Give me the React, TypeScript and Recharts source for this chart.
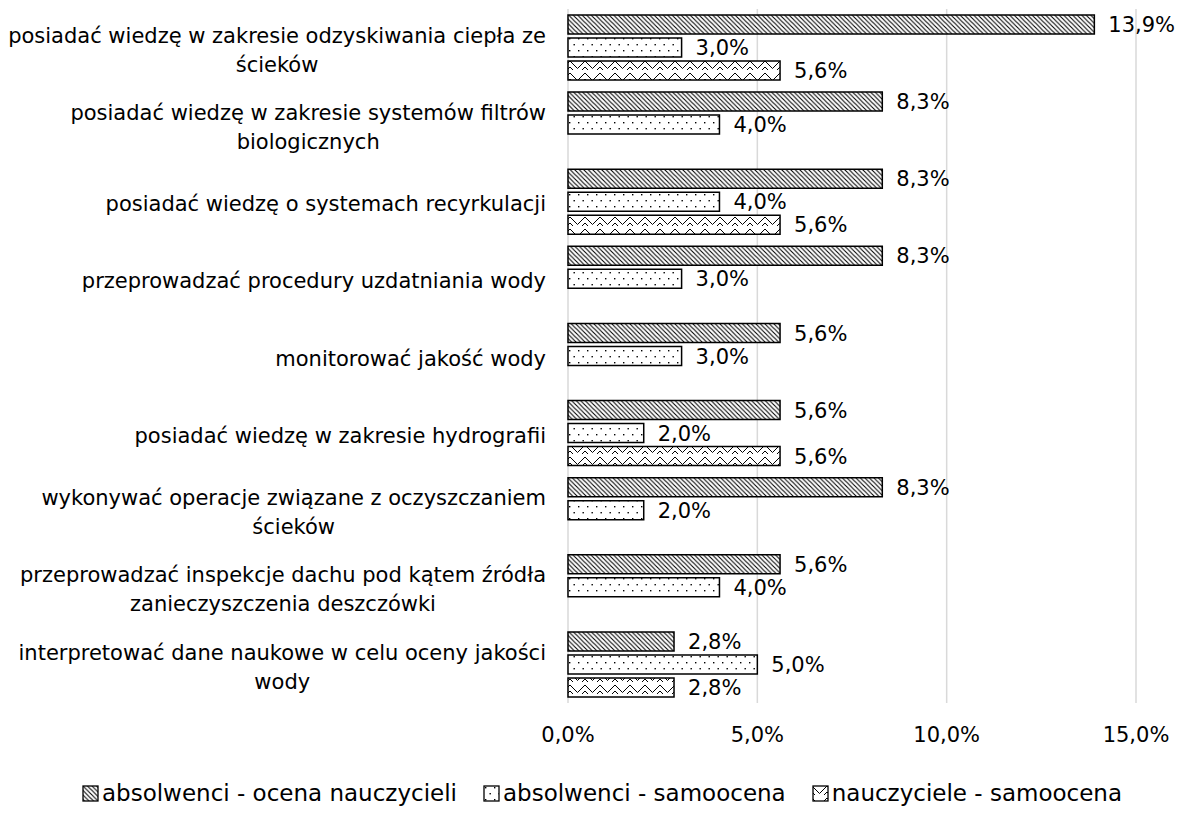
import { BarChart, Bar, XAxis, YAxis, CartesianGrid, Legend, LabelList } from 'recharts';

const categories = [
  'posiadać wiedzę w zakresie odzyskiwania ciepła ze\nścieków',
  'posiadać wiedzę w zakresie systemów filtrów\nbiologicznych',
  'posiadać wiedzę o systemach recyrkulacji',
  'przeprowadzać procedury uzdatniania wody',
  'monitorować jakość wody',
  'posiadać wiedzę w zakresie hydrografii',
  'wykonywać operacje związane z oczyszczaniem\nścieków',
  'przeprowadzać inspekcje dachu pod kątem źródła\nzanieczyszczenia deszczówki',
  'interpretować dane naukowe w celu oceny jakości\nwody',
];

const absolwenciOcenaNauczycieli = [13.9, 8.3, 8.3, 8.3, 5.6, 5.6, 8.3, 5.6, 2.8];
const absolwenciSamoocena = [3.0, 4.0, 4.0, 3.0, 3.0, 2.0, 2.0, 4.0, 5.0];
const nauczycieleSamoocena = [5.6, null, 5.6, null, null, 5.6, null, null, 2.8];

const xTicks = [0, 5, 10, 15];

const seriesNames = ['absolwenci - ocena nauczycieli', 'absolwenci - samoocena', 'nauczyciele - samoocena'];
const seriesKeys = ['ocena', 'samoAbs', 'samoNau'];
const patternIds = ['pDiag', 'pDots', 'pZig'];

const data = categories.map((name, i) => ({
  name,
  ocena: absolwenciOcenaNauczycieli[i],
  samoAbs: absolwenciSamoocena[i],
  samoNau: nauczycieleSamoocena[i],
}));

const FONT = '"DejaVu Sans", sans-serif';
const FS = 21;
const LINE_H = 29;

const fmt = (v: number) => v.toFixed(1).replace('.', ',') + '%';

let ctx: CanvasRenderingContext2D | null = null;
function textWidth(s: string) {
  if (!ctx) ctx = document.createElement('canvas').getContext('2d');
  if (!ctx) return s.length * FS * 0.55;
  ctx.font = `${FS}px ${FONT}`;
  return ctx.measureText(s).width;
}

// right-aligned block, lines centred inside it (like the Excel original)
function CategoryTick(props: any) {
  const { x, y, payload } = props;
  const lines: string[] = String(payload.value).split('\n');
  const w = Math.max(...lines.map(textWidth));
  const cx = x - w / 2;
  const y0 = y + 2 - ((lines.length - 1) * LINE_H) / 2;
  return (
    <text x={cx} y={y0} textAnchor="middle" fontFamily={FONT} fontSize={FS} fill="#000">
      {lines.map((l, i) => (
        <tspan key={i} x={cx} y={y0 + i * LINE_H} dy="0.36em">
          {l}
        </tspan>
      ))}
    </text>
  );
}

function ValueLabel(props: any) {
  const { x, y, width, height, value } = props;
  if (value == null) return null;
  return (
    <text x={x + width + 14} y={y + height / 2} dy="0.36em" fontFamily={FONT} fontSize={FS} fill="#000">
      {fmt(value)}
    </text>
  );
}

function Patterns() {
  return (
    <defs>
      <pattern id="pDiag" patternUnits="userSpaceOnUse" width="4.5" height="4.5">
        <rect width="4.5" height="4.5" fill="#fff" />
        <path d="M-1,-1 L5.5,5.5 M-1,3.5 L1,5.5 M3.5,-1 L5.5,1" stroke="#000" strokeWidth="1.1" />
      </pattern>
      <pattern id="pDots" patternUnits="userSpaceOnUse" width="9" height="12">
        <rect width="9" height="12" fill="#fff" />
        <rect x="2" y="2" width="1.4" height="1.4" fill="#000" />
        <rect x="6.5" y="8" width="1.4" height="1.4" fill="#000" />
      </pattern>
      <pattern id="pZig" patternUnits="userSpaceOnUse" width="15" height="12">
        <rect width="15" height="12" fill="#fff" />
        <path d="M0,1 L7.5,8.5 L15,1 M0,7 L3,10 M15,7 L12,10" stroke="#000" strokeWidth="1" fill="none" />
      </pattern>
    </defs>
  );
}

function LegendContent() {
  return (
    <div style={{ display: 'flex', justifyContent: 'center', alignItems: 'center', paddingTop: 20, paddingLeft: 68, fontFamily: FONT, fontSize: 23, color: '#000' }}>
      {seriesNames.map((n, i) => (
        <div key={n} style={{ display: 'flex', alignItems: 'center', marginRight: i < 2 ? 26 : 0 }}>
          <svg width="17" height="17" style={{ marginRight: 3 }}>
            <rect x="1" y="1" width="15" height="15" fill={`url(#${patternIds[i]})`} stroke="#000" strokeWidth="1.3" />
          </svg>
          <span>{n}</span>
        </div>
      ))}
    </div>
  );
}

export default function App() {
  return (
    <div style={{ position: 'absolute', left: 0, top: 0, width: 1182, height: 814, background: '#fff' }}>
      <svg width="0" height="0" style={{ position: 'absolute' }}>
        <Patterns />
      </svg>
      <BarChart
        width={1182}
        height={814}
        data={data}
        layout="vertical"
        margin={{ top: 9, right: 46, bottom: 0, left: 0 }}
        barSize={19}
        barGap={4}
      >
        <CartesianGrid horizontal={false} stroke="#d9d9d9" strokeWidth={1.5} />
        <XAxis
          type="number"
          domain={[0, 15]}
          ticks={xTicks}
          tickFormatter={fmt}
          axisLine={false}
          tickLine={false}
          tickSize={0}
          tickMargin={24}
          height={57}
          tick={{ fill: '#000', fontSize: FS, fontFamily: FONT }}
        />
        <YAxis
          type="category"
          dataKey="name"
          width={568}
          axisLine={false}
          tickLine={false}
          tickSize={0}
          tickMargin={22}
          interval={0}
          tick={<CategoryTick />}
        />
        <Legend verticalAlign="bottom" height={54} content={<LegendContent />} />
        {seriesKeys.map((k, i) => (
          <Bar
            key={k}
            dataKey={k}
            name={seriesNames[i]}
            fill={`url(#${patternIds[i]})`}
            stroke="#000"
            strokeWidth={1.5}
            isAnimationActive={false}
          >
            <LabelList dataKey={k} content={<ValueLabel />} />
          </Bar>
        ))}
      </BarChart>
    </div>
  );
}
